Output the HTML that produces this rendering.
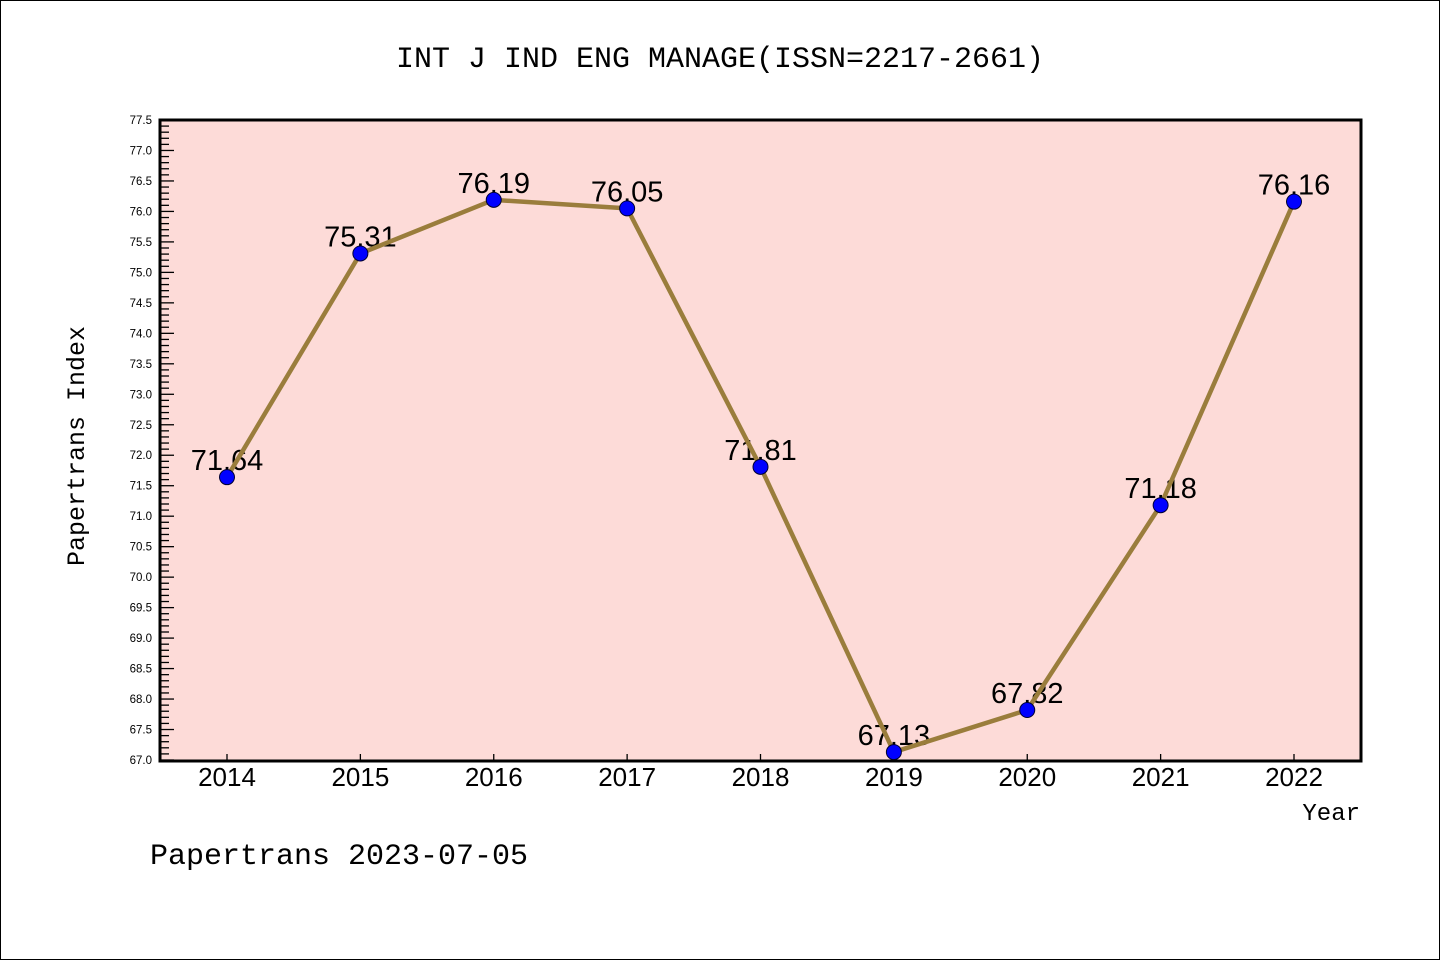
<!DOCTYPE html>
<html><head><meta charset="utf-8"><style>
html,body{margin:0;padding:0;background:#fff;}
svg{display:block;}
text{font-family:"Liberation Sans","Noto Sans CJK SC",sans-serif;}
.mono{font-family:"Liberation Mono","Noto Sans CJK SC",monospace;}
</style></head><body>
<svg id="chart" width="1440" height="960" xmlns="http://www.w3.org/2000/svg">
<rect x="0.5" y="0.5" width="1439" height="959" fill="#fff" stroke="#000" stroke-width="1"/>
<rect x="160" y="120" width="1201" height="641" fill="#fddbd8"/>
<text class="mono" x="720" y="67" font-size="30" text-anchor="middle">INT J IND ENG MANAGE(ISSN=2217-2661)</text>
<text class="mono" x="0" y="0" font-size="25" text-anchor="middle" transform="translate(84,446) rotate(-90)">Papertrans Index</text>
<text class="mono" x="1360" y="820" font-size="24" text-anchor="end">Year</text>
<text class="mono" x="150" y="864" font-size="30">Papertrans 2023-07-05</text>
<g id="ticks"></g>
<g id="series"></g>
<rect x="160" y="120" width="1201" height="641" fill="none" stroke="#000" stroke-width="3"/>
</svg>
<script>
const years = ["2014","2015","2016","2017","2018","2019","2020","2021","2022"];
const values = [71.64, 75.31, 76.19, 76.05, 71.81, 67.13, 67.82, 71.18, 76.16];
const valueLabels = ["71.64","75.31","76.19","76.05","71.81","67.13","67.82","71.18","76.16"];
const yMin = 67.0, yMax = 77.5;

const NS = "http://www.w3.org/2000/svg";
function xs(i){ return 227 + i * (1294 - 227) / 8; }
function ys(v){ return 760 - (v - yMin) * (640 / (yMax - yMin)); }
function mk(tag, attrs, parent){ const e=document.createElementNS(NS,tag); for(const k in attrs) e.setAttribute(k,attrs[k]); parent.appendChild(e); return e; }

const tg = document.getElementById('ticks');
for (let k = 0; k <= Math.round((yMax - yMin) * 10); k++) {
  const v = yMin + k / 10;
  const y = ys(v);
  const major = k % 5 === 0;
  const t = mk('line', {x1:160, x2:160 + (major ? 14 : 9), y1:y, y2:y, stroke:'#000', 'stroke-width':1.3}, tg);
  
  
  if (major) {
    const l = mk('text', {x:152, y:y+4, 'font-size':11.5, 'text-anchor':'end'}, tg);
    l.textContent = v.toFixed(1);
    
    
  }
}
years.forEach((yr, i) => {
  const x = xs(i);
  const t = mk('line', {x1:x, x2:x, y1:760, y2:754, stroke:'#000', 'stroke-width':1.3}, tg);
  
  
  const l = mk('text', {x:x, y:786, 'font-size':26, 'text-anchor':'middle'}, tg);
  l.textContent = yr;
  
  
});

const sg = document.getElementById('series');
values.forEach((v, i) => {
  const l = mk('text', {x:xs(i), y:ys(v)-7, 'font-size':29, 'text-anchor':'middle'}, sg);
  l.textContent = valueLabels[i];
  
  
});
const pts = values.map((v, i) => xs(i) + ',' + ys(v)).join(' ');
const line = mk('polyline', {points:pts, fill:'none', stroke:'#9a7d3c', 'stroke-width':4.5, 'stroke-linejoin':'round'}, sg);


values.forEach((v, i) => {
  const c = mk('circle', {cx:xs(i), cy:ys(v), r:7.5, fill:'#0000ff', stroke:'#000033', 'stroke-width':1}, sg);
  
  
});
</script>
</body></html>
